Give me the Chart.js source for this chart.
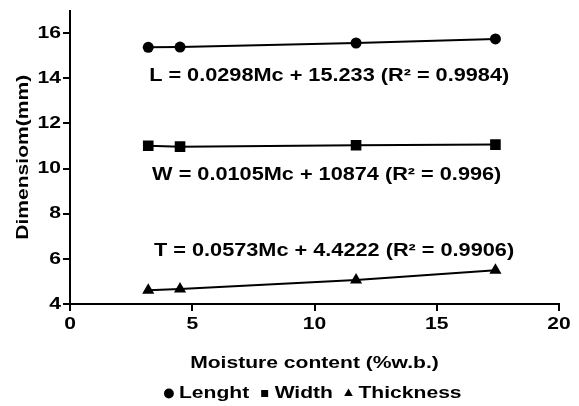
<!DOCTYPE html>
<html>
<head>
<meta charset="utf-8">
<script src="https://cdn.jsdelivr.net/npm/chart.js@4/dist/chart.umd.min.js"></script>
<style>
  html, body { margin: 0; padding: 0; background: #fff; }
  #wrap { width: 579px; height: 406px; }
</style>
</head>
<body>
<div id="wrap"><canvas id="dim_chart" width="579" height="406"></canvas></div>
<script>
// values
const moisture = [3.2, 4.5, 11.7, 17.4];
const length_mm = [15.37, 15.38, 15.56, 15.74];
const width_mm = [11.01, 10.97, 11.03, 11.06];
const thickness_mm = [4.61, 4.66, 5.06, 5.49];

const series_names = ["Lenght", "Width", "Thickness"];
const x_ticks = [0, 5, 10, 15, 20];
const y_ticks = [4, 6, 8, 10, 12, 14, 16];

const eq_texts = [
  "L = 0.0298Mc + 15.233 (R\u00b2 = 0.9984)",
  "W = 0.0105Mc + 10874 (R\u00b2 = 0.996)",
  "T = 0.0573Mc + 4.4222 (R\u00b2 = 0.9906)",
];
const eq_x = [10.6, 10.5, 10.8];
const eq_y = [14.08, 9.69, 6.33];

const FONT = "'Liberation Sans', Arial, sans-serif";
const STRETCH = 1.24; // the figure's lettering is wide

const dim_canvas = document.getElementById("dim_chart");
const dim_ctx = dim_canvas.getContext("2d");

// stretch every text horizontally to match the wide lettering
const orig_fill = dim_ctx.fillText.bind(dim_ctx);
const orig_measure = dim_ctx.measureText.bind(dim_ctx);
dim_ctx.fillText = function (t, x, y) {
  dim_ctx.save();
  dim_ctx.translate(x, y);
  dim_ctx.scale(STRETCH, 1);
  orig_fill(t, 0, 0);
  dim_ctx.restore();
};
dim_ctx.measureText = function (t) {
  const m = orig_measure(t);
  return {
    width: m.width * STRETCH,
    actualBoundingBoxAscent: m.actualBoundingBoxAscent,
    actualBoundingBoxDescent: m.actualBoundingBoxDescent,
    actualBoundingBoxLeft: m.actualBoundingBoxLeft * STRETCH,
    actualBoundingBoxRight: m.actualBoundingBoxRight * STRETCH,
  };
};

const to_points = (ys) => moisture.map((x, i) => ({ x: x, y: ys[i] }));

const equation_labels = {
  id: "equation_labels",
  afterDatasetsDraw(chart) {
    const c = chart.ctx;
    const xs = chart.scales.x;
    const ys = chart.scales.y;
    c.save();
    c.fillStyle = "#000";
    c.font = "bold 17.5px " + FONT;
    c.textAlign = "center";
    c.textBaseline = "middle";
    eq_texts.forEach((t, i) => {
      c.fillText(t, xs.getPixelForValue(eq_x[i]), ys.getPixelForValue(eq_y[i]));
    });
    c.restore();
  },
};

// legend sits centred under the plot area, not the whole canvas
const legend_under_plot = {
  id: "legend_under_plot",
  afterLayout(chart) {
    const lg = chart.legend;
    const area = chart.chartArea;
    const dx = (area.left + area.right) / 2 - (lg.left + lg.right) / 2;
    lg.left += dx;
    lg.right += dx;
  },
};

const txt_font = { family: FONT, size: 17, weight: "bold" };

const dim_chart = new Chart(dim_ctx, {
  type: "scatter",
  data: {
    datasets: [
      {
        label: series_names[0],
        data: to_points(length_mm),
        pointStyle: "circle",
        pointRadius: 5.5,
      },
      {
        label: series_names[1],
        data: to_points(width_mm),
        pointStyle: "rect",
        pointRadius: 7.5,
      },
      {
        label: series_names[2],
        data: to_points(thickness_mm),
        pointStyle: "triangle",
        pointRadius: 7,
      },
    ].map((d) => Object.assign(d, {
      showLine: true,
      borderColor: "#000",
      backgroundColor: "#000",
      borderWidth: 2,
      pointBorderWidth: 0,
      pointHoverRadius: d.pointRadius,
    })),
  },
  options: {
    responsive: false,
    animation: false,
    layout: { padding: { left: 0, right: 20, top: 9, bottom: -6 } },
    plugins: {
      tooltip: { enabled: false },
      legend: {
        position: "bottom",
        labels: {
          usePointStyle: true,
          boxWidth: 3,
          boxHeight: 7,
          padding: 14,
          color: "#000",
          font: txt_font,
        },
      },
    },
    scales: {
      x: {
        type: "linear",
        min: 0,
        max: 20,
        afterBuildTicks: (s) => { s.ticks = x_ticks.map((v) => ({ value: v })); },
        afterFit: (s) => { s.height = 67; },
        border: { display: true, color: "#000", width: 2 },
        grid: { drawOnChartArea: false, drawTicks: true, tickLength: 7, color: "#000", lineWidth: 2 },
        ticks: { color: "#000", padding: 3, maxRotation: 0, font: txt_font },
        title: {
          display: true,
          text: "Moisture content (%w.b.)",
          color: "#000",
          padding: { top: 0, bottom: -3 },
          font: txt_font,
        },
      },
      y: {
        type: "linear",
        min: 4,
        max: 17,
        afterBuildTicks: (s) => { s.ticks = y_ticks.map((v) => ({ value: v })); },
        afterFit: (s) => { s.width = 70; },
        border: { display: true, color: "#000", width: 2 },
        grid: { drawOnChartArea: false, drawTicks: true, tickLength: 7, color: "#000", lineWidth: 2 },
        ticks: { color: "#000", padding: 2, font: Object.assign({ lineHeight: 1 }, txt_font) },
        title: {
          display: true,
          text: "Dimensiom(mm)",
          color: "#000",
          padding: { top: 13, bottom: 0 },
          font: txt_font,
        },
      },
    },
  },
  plugins: [equation_labels, legend_under_plot],
});
</script>
</body>
</html>
